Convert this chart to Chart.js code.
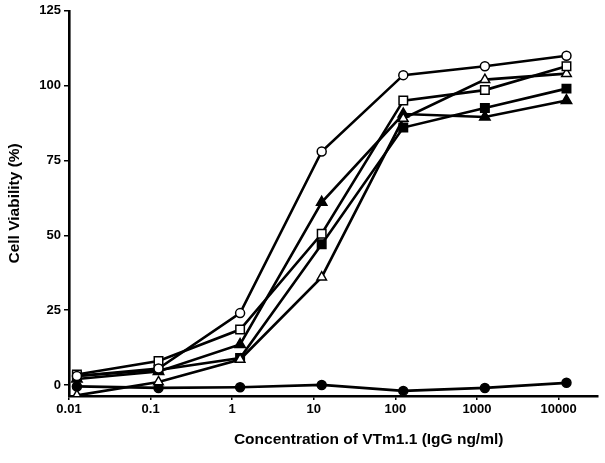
<!DOCTYPE html>
<html>
<head>
<meta charset="utf-8">
<script src="https://cdn.jsdelivr.net/npm/chart.js@4"></script>
<style>
  html, body { margin: 0; padding: 0; background: #fff; }
  #wrap { width: 605px; height: 463px; }
</style>
</head>
<body>
<div id="wrap"><canvas id="chart" width="605" height="463"></canvas></div>
<script>
// concentrations (ng/ml), points sit just right of each decade
const concentrations = [0.0125, 0.125, 1.25, 12.5, 125, 1250, 12500];

// cell viability (%) for each curve
const openCircle     = [3, 5.5, 24, 78, 103.5, 106.5, 110];
const openSquare     = [3.5, 8, 18.5, 50.5, 95, 98.5, 106.5];
const openTriangle   = [-3.5, 1, 8.5, 36, 89, 102, 104];
const filledSquare   = [3, 5, 9, 47, 86, 92.5, 99];
const filledTriangle = [2, 4.5, 13.5, 61, 90.5, 89.5, 95];
const filledCircle   = [-0.5, -1, -0.8, 0, -2, -1, 0.7];

const xTicks = [0.01, 0.1, 1, 10, 100, 1000, 10000];
const yTicks = [0, 25, 50, 75, 100, 125];

const xTitle = 'Concentration of VTm1.1 (IgG ng/ml)';
const yTitle = 'Cell Viability (%)';

const font = { family: '"Liberation Sans", Arial, sans-serif', weight: 'bold' };

function pts(values) {
    return concentrations.map((c, i) => ({ x: c, y: values[i] }));
}

function series(values, style, filled, radius) {
    return {
        data: pts(values),
        borderColor: '#000',
        borderWidth: 2.6,
        pointStyle: style,
        pointRadius: radius,
        pointHoverRadius: radius,
        pointBackgroundColor: filled ? '#000' : '#fff',
        pointBorderColor: '#000',
        pointBorderWidth: 1.5,
        tension: 0,
        fill: false
    };
}

// x axis title sits a bit right of the axis centre in the original
const xTitlePlugin = {
    id: 'xTitle',
    afterDraw(chart) {
        const ctx = chart.ctx;
        const area = chart.chartArea;
        ctx.save();
        ctx.font = 'bold 15.5px "Liberation Sans", Arial, sans-serif';
        ctx.fillStyle = '#000';
        ctx.textAlign = 'center';
        ctx.textBaseline = 'middle';
        ctx.fillText(xTitle, area.left + area.width * 0.567, area.bottom + 44);
        ctx.restore();
    }
};

new Chart(document.getElementById('chart'), {
    type: 'line',
    data: {
        datasets: [
            series(openCircle, 'circle', false, 4.5),
            series(openSquare, 'rect', false, 6),
            series(openTriangle, 'triangle', false, 5.5),
            series(filledSquare, 'rect', true, 6),
            series(filledTriangle, 'triangle', true, 6),
            series(filledCircle, 'circle', true, 4.5)
        ]
    },
    options: {
        responsive: false,
        animation: false,
        layout: { padding: { top: 5, right: 6, left: 0, bottom: 0 } },
        plugins: {
            legend: { display: false },
            tooltip: { enabled: false }
        },
        scales: {
            x: {
                type: 'logarithmic',
                min: 0.01,
                max: 30000,
                afterBuildTicks: scale => { scale.ticks = xTicks.map(v => ({ value: v })); },
                afterFit: scale => { scale.height = 67; },
                ticks: {
                    autoSkip: false,
                    maxRotation: 0,
                    color: '#000',
                    font: Object.assign({ size: 13 }, font),
                    padding: 2,
                    callback: v => String(v)
                },
                grid: { display: true, drawOnChartArea: false, drawTicks: true, tickLength: 4, color: '#000', lineWidth: 1.5 },
                border: { display: true, color: '#000', width: 2.6 }
            },
            y: {
                min: -3.7,
                max: 125,
                afterBuildTicks: scale => { scale.ticks = yTicks.map(v => ({ value: v })); },
                afterFit: scale => { scale.width = 69; },
                ticks: {
                    color: '#000',
                    font: Object.assign({ size: 13 }, font),
                    padding: 3
                },
                title: {
                    display: true,
                    text: yTitle,
                    color: '#000',
                    font: Object.assign({ size: 15.5 }, font),
                    padding: { top: 5, bottom: 10 }
                },
                grid: { display: true, drawOnChartArea: false, drawTicks: true, tickLength: 5, color: '#000', lineWidth: 1.5 },
                border: { display: true, color: '#000', width: 2.6 }
            }
        }
    },
    plugins: [xTitlePlugin]
});
</script>
</body>
</html>
